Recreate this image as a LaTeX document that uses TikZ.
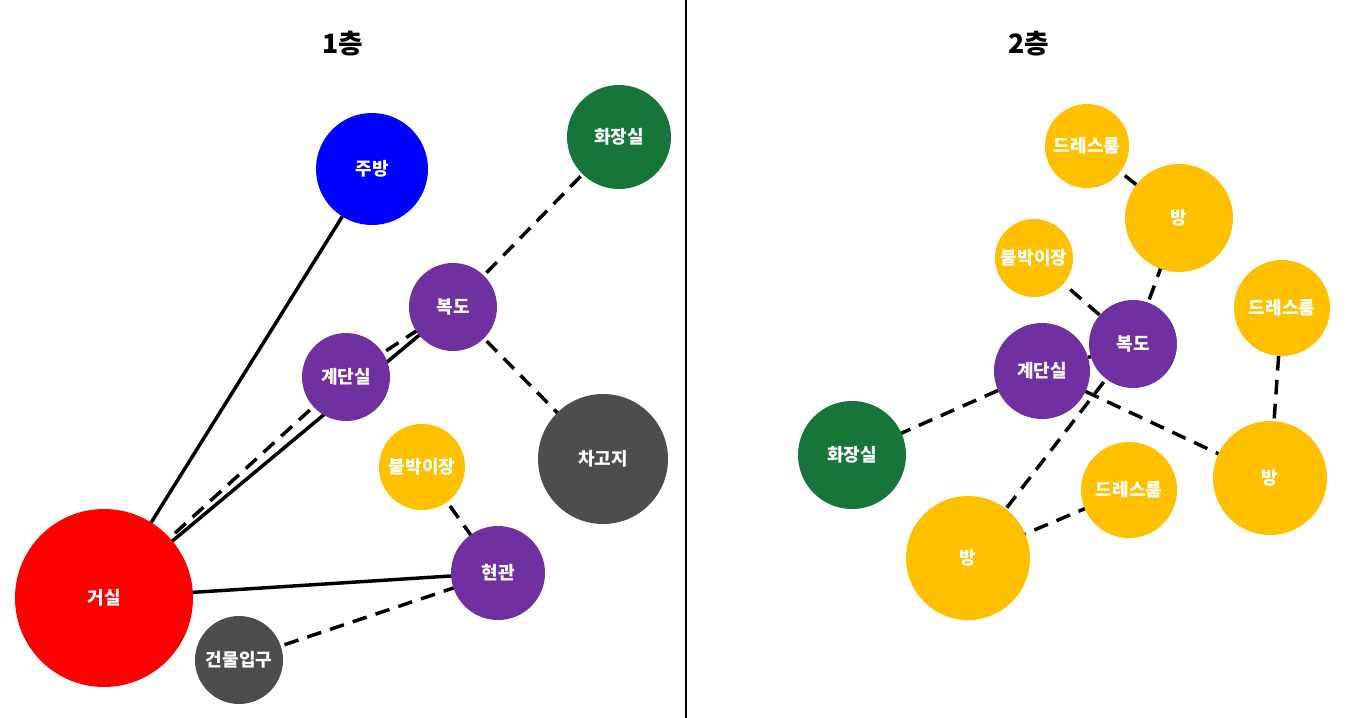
\documentclass[tikz,border=0pt]{standalone}
\usepackage{fontspec}
\setmainfont{Noto Sans CJK KR}
\usetikzlibrary{backgrounds}
\definecolor{cred}{HTML}{FF0000}
\definecolor{cblue}{HTML}{0000FF}
\definecolor{cgreen}{HTML}{18753A}
\definecolor{cpurple}{HTML}{7030A0}
\definecolor{cgray}{HTML}{4D4D4D}
\definecolor{cyellow}{HTML}{FFC000}
\begin{document}
\begin{tikzpicture}[x=0.75pt,y=-0.75pt,
  room/.style={circle,draw=none,inner sep=0pt,text=white,font=\bfseries\fontsize{13.5}{16}\selectfont},
  solidlink/.style={line width=2.6pt},
  dashlink/.style={line width=2.6pt,dash pattern=on 11pt off 7pt},
  title/.style={font=\bfseries\fontsize{20}{24}\selectfont}]
\useasboundingbox (0,0) rectangle (1372,718);
\coordinate (divtop) at (686,0);
\coordinate (divbot) at (686,718);
\draw[line width=1.5pt] (divtop) -- (divbot);
\node[title] (t1) at (343,44) {1층};
\node[title] (t2) at (1029,44) {2층};
% left floor
\node[room,fill=cred,minimum size=178*0.75pt] (L-living) at (104,598) {거실};
\node[room,fill=cblue,minimum size=112*0.75pt] (L-kitchen) at (372,169) {주방};
\node[room,fill=cgreen,minimum size=104*0.75pt] (L-wc) at (619,137) {화장실};
\node[room,fill=cpurple,minimum size=88*0.75pt] (L-hall) at (453,307) {복도};
\node[room,fill=cpurple,minimum size=88*0.75pt] (L-stair) at (346,377) {계단실};
\node[room,fill=cgray,minimum size=130*0.75pt] (L-garage) at (603,459) {차고지};
\node[room,fill=cyellow,minimum size=86*0.75pt] (L-closet) at (422,467) {붙박이장};
\node[room,fill=cpurple,minimum size=94*0.75pt] (L-entry) at (498,573) {현관};
\node[room,fill=cgray,minimum size=88*0.75pt] (L-door) at (239,660) {건물입구};
% right floor
\node[room,fill=cyellow,minimum size=84*0.75pt] (R-dress1) at (1087,146) {드레스룸};
\node[room,fill=cyellow,minimum size=108*0.75pt] (R-room1) at (1179,218) {방};
\node[room,fill=cyellow,minimum size=78*0.75pt] (R-closet) at (1034,258) {붙박이장};
\node[room,fill=cyellow,minimum size=96*0.75pt] (R-dress2) at (1282,308) {드레스룸};
\node[room,fill=cpurple,minimum size=88*0.75pt] (R-hall) at (1133,344) {복도};
\node[room,fill=cpurple,minimum size=96*0.75pt] (R-stair) at (1042,371) {계단실};
\node[room,fill=cgreen,minimum size=108*0.75pt] (R-wc) at (852,455) {화장실};
\node[room,fill=cyellow,minimum size=114*0.75pt] (R-room2) at (1270,478) {방};
\node[room,fill=cyellow,minimum size=96*0.75pt] (R-dress3) at (1129,490) {드레스룸};
\node[room,fill=cyellow,minimum size=124*0.75pt] (R-room3) at (968,558) {방};
\begin{scope}[on background layer]
\fill[white] (0,0) rectangle (1372,718);
\draw[solidlink] (L-living.center) -- (L-kitchen.center);
\draw[solidlink] (L-living.center) -- (L-hall.center);
\draw[solidlink] (L-living.center) -- (L-entry.center);
\draw[dashlink] (L-living.center) -- (L-stair.center);
\draw[dashlink] (L-stair.center) -- (L-hall.center);
\draw[dashlink] (L-hall.center) -- (L-wc.center);
\draw[dashlink] (L-hall.center) -- (L-garage.center);
\draw[dashlink] (L-closet.center) -- (L-entry.center);
\draw[dashlink] (L-door.center) -- (L-entry.center);
\draw[dashlink] (R-dress1.center) -- (R-room1.center);
\draw[dashlink] (R-room1.center) -- (R-hall.center);
\draw[dashlink] (R-closet.center) -- (R-hall.center);
\draw[dashlink] (R-stair.center) -- (R-hall.center);
\draw[dashlink] (R-stair.center) -- (R-wc.center);
\draw[dashlink] (R-stair.center) -- (R-room2.center);
\draw[dashlink] (R-hall.center) -- (R-room3.center);
\draw[dashlink] (R-room3.center) -- (R-dress3.center);
\draw[dashlink] (R-dress2.center) -- (R-room2.center);
\end{scope}
\end{tikzpicture}
\end{document}
